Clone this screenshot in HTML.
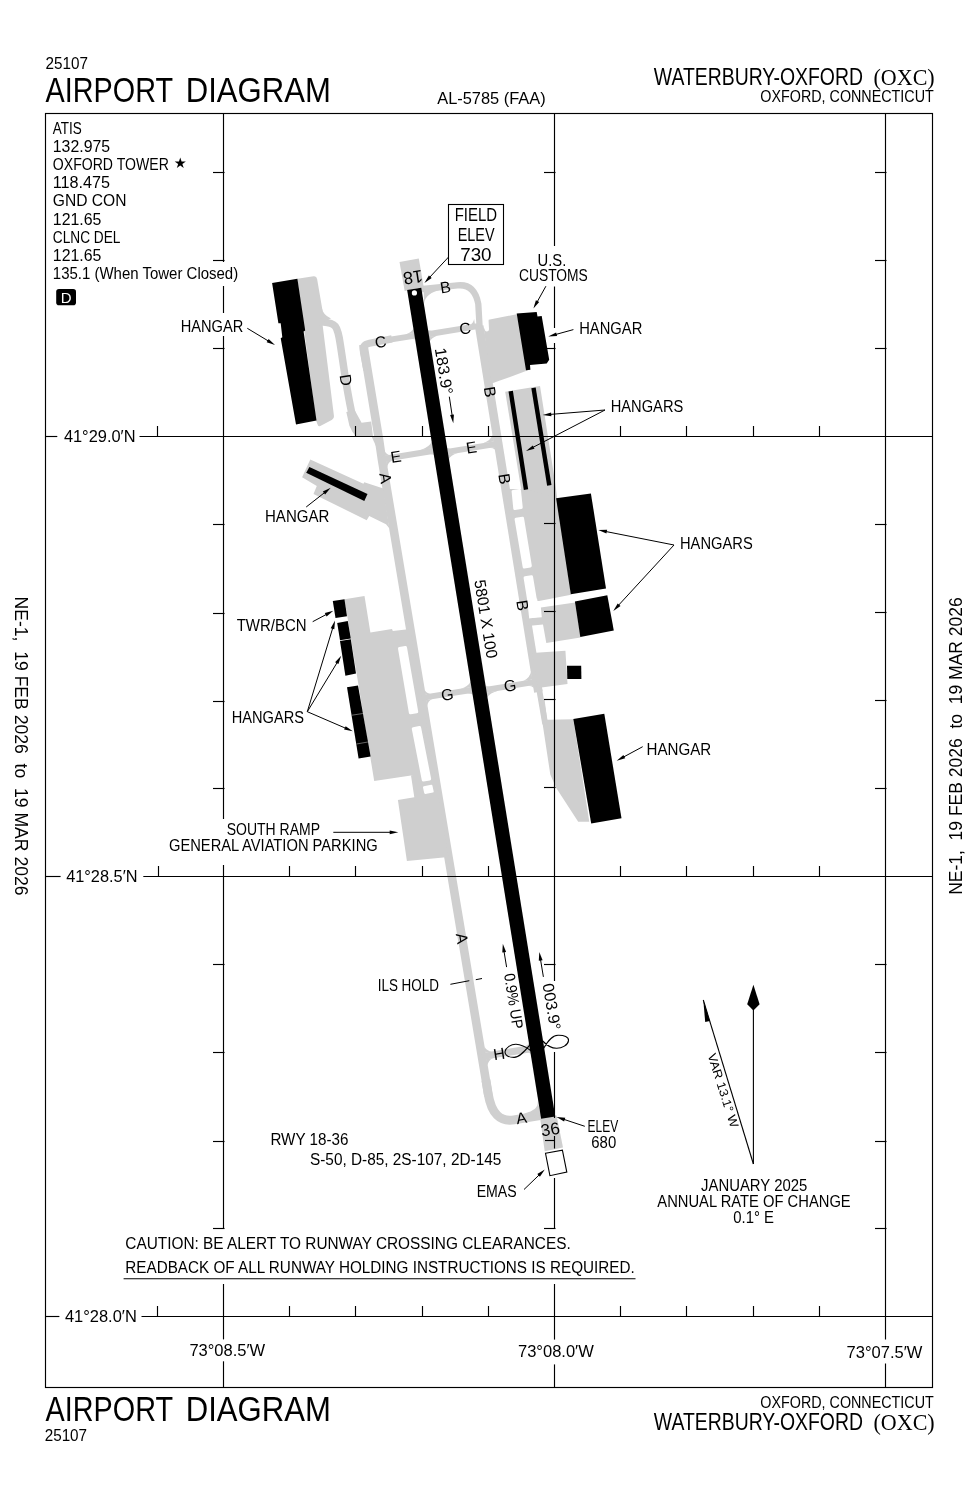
<!DOCTYPE html>
<html lang="en"><head><meta charset="utf-8"><title>Airport Diagram - Waterbury-Oxford (OXC)</title>
<style>
html,body{margin:0;padding:0;background:#fff}
body{width:978px;height:1500px;overflow:hidden}
svg{display:block;will-change:transform}
text{font-family:"Liberation Sans",sans-serif;fill:#000}
</style></head><body>
<svg width="978" height="1500" viewBox="0 0 978 1500">
<rect x="0" y="0" width="978" height="1500" fill="#fff"/>
<polygon points="399.5,262.0 418.8,258.6 423.7,286.8 404.7,291.0" fill="#cfcfcf" />
<path d="M297.4,278.8 L313.6,276.3 Q316.6,275.9 317.1,278.9 L322.6,311.0 L322.8,326.5 L333.9,415.5 Q334.3,418.5 331.7,419.9 L320.3,426.0 Q318.5,426.9 317.8,425.0 L316.0,420.5Z" fill="#cfcfcf"/>
<path d="M320.0,321.6 L327.3,322.6 Q334.6,323.6 336.5,328.3 L336.5,328.4 Q338.4,333.0 339.2,337.9 L339.8,341.5 Q341.2,350.0 343.5,365.8 L343.5,365.8 Q345.8,381.5 347.9,393.2 L347.9,393.2 Q350.0,405.0 351.8,413.0 L353.5,421.0" fill="none" stroke="#cfcfcf" stroke-width="7.50" stroke-linejoin="round" stroke-linecap="butt"/>
<path d="M321.6,307 Q322.5,314.5 331,318.6 L322,322 Z" fill="#cfcfcf"/>
<polygon points="346.3,412.0 349.4,425.8 352.5,432.0 356.5,436.9 373.0,436.9 371.2,421.5 361.6,422.7 354.6,410.0" fill="#cfcfcf" />
<polygon points="371.6,436.5 378.2,451.0 380.6,452.0 378.0,436.5" fill="#cfcfcf" />
<path d="M363.3,344.5 L379.1,440.0 L382.0,460.0 L488.5,1096.0" fill="none" stroke="#cfcfcf" stroke-width="8.60" stroke-linejoin="round" stroke-linecap="butt"/>
<path d="M366.9,370.0 L363.5,352.0 Q362.1,344.6 369.5,343.2 L391.9,338.9" fill="none" stroke="#cfcfcf" stroke-width="7.20" stroke-linejoin="round" stroke-linecap="butt"/>
<polyline points="421.6,334.6 382.1,340.9" fill="none" stroke="#cfcfcf" stroke-width="6.00" stroke-linejoin="round" stroke-linecap="butt"/>
<path d="M413.7,328.0 Q412.1,332.1 405.6,334.4 L414.5,333.0 Z" fill="#cfcfcf"/>
<path d="M415.6,339.8 Q414.4,338.8 411.4,338.9 L415.4,338.3 Z" fill="#cfcfcf"/>
<polyline points="421.7,335.2 479.2,325.9" fill="none" stroke="#cfcfcf" stroke-width="6.00" stroke-linejoin="round" stroke-linecap="butt"/>
<path d="M427.7,330.0 Q428.9,330.9 431.9,330.8 L427.9,331.5 Z" fill="#cfcfcf"/>
<path d="M429.6,341.7 Q431.2,337.7 437.7,335.4 L428.8,336.8 Z" fill="#cfcfcf"/>
<path d="M474.1,318.9 Q473.5,322.8 470.0,324.7 L474.9,323.9 Z" fill="#cfcfcf"/>
<polyline points="440.2,449.8 381.8,459.3" fill="none" stroke="#cfcfcf" stroke-width="6.00" stroke-linejoin="round" stroke-linecap="butt"/>
<path d="M432.0,441.3 Q429.7,447.0 420.3,450.3 L433.1,448.2 Z" fill="#cfcfcf"/>
<path d="M434.2,455.1 Q432.8,454.1 429.1,454.4 L434.0,453.6 Z" fill="#cfcfcf"/>
<path d="M384.5,451.0 Q386.3,454.5 390.2,455.2 L385.3,456.0 Z" fill="#cfcfcf"/>
<path d="M387.1,467.2 Q387.8,462.6 392.0,460.4 L386.1,461.3 Z" fill="#cfcfcf"/>
<polyline points="440.7,452.9 498.2,443.6" fill="none" stroke="#cfcfcf" stroke-width="6.00" stroke-linejoin="round" stroke-linecap="butt"/>
<path d="M446.7,447.7 Q447.9,448.6 450.9,448.5 L447.0,449.1 Z" fill="#cfcfcf"/>
<path d="M448.6,459.4 Q450.5,455.3 457.7,452.9 L447.8,454.5 Z" fill="#cfcfcf"/>
<path d="M492.8,434.6 Q491.0,440.3 483.1,443.3 L493.9,441.6 Z" fill="#cfcfcf"/>
<path d="M495.3,449.8 Q493.4,447.9 488.9,447.8 L494.8,446.9 Z" fill="#cfcfcf"/>
<polyline points="478.9,688.7 421.9,697.9" fill="none" stroke="#cfcfcf" stroke-width="6.00" stroke-linejoin="round" stroke-linecap="butt"/>
<path d="M470.8,681.2 Q468.7,686.1 460.4,689.0 L471.8,687.1 Z" fill="#cfcfcf"/>
<path d="M472.9,694.4 Q470.7,693.3 464.7,693.7 L472.6,692.4 Z" fill="#cfcfcf"/>
<path d="M424.5,689.7 Q426.3,693.2 430.2,693.8 L425.3,694.6 Z" fill="#cfcfcf"/>
<path d="M427.1,705.9 Q427.9,701.2 432.1,699.0 L426.1,700.0 Z" fill="#cfcfcf"/>
<polyline points="479.2,690.9 536.7,681.6" fill="none" stroke="#cfcfcf" stroke-width="6.00" stroke-linejoin="round" stroke-linecap="butt"/>
<path d="M485.2,685.6 Q486.6,686.5 490.4,686.3 L485.4,687.1 Z" fill="#cfcfcf"/>
<path d="M487.1,697.4 Q489.6,693.2 498.6,690.5 L486.3,692.5 Z" fill="#cfcfcf"/>
<path d="M531.1,671.6 Q529.9,677.9 523.5,681.0 L532.4,679.5 Z" fill="#cfcfcf"/>
<path d="M533.8,687.8 Q531.9,685.8 527.4,685.8 L533.3,684.9 Z" fill="#cfcfcf"/>
<polyline points="536.9,1047.7 482.0,1056.6" fill="none" stroke="#cfcfcf" stroke-width="7.00" stroke-linejoin="round" stroke-linecap="butt"/>
<path d="M529.2,1042.6 Q528.4,1045.0 524.8,1046.4 L529.7,1045.6 Z" fill="#cfcfcf"/>
<path d="M531.1,1053.9 Q529.8,1052.6 526.8,1052.5 L530.7,1051.9 Z" fill="#cfcfcf"/>
<path d="M484.3,1046.4 Q486.8,1050.9 492.2,1051.7 L485.3,1052.8 Z" fill="#cfcfcf"/>
<path d="M487.4,1065.5 Q488.3,1060.4 493.2,1058.0 L486.3,1059.1 Z" fill="#cfcfcf"/>
<path d="M418.3,289.5 L457.4,285.4 Q474.5,283.5 478.3,304 L480.0,334.0" fill="none" stroke="#cfcfcf" stroke-width="6.3"/>
<path d="M479.2,326.0 L538.4,692.0" fill="none" stroke="#cfcfcf" stroke-width="8.60" stroke-linejoin="round" stroke-linecap="butt"/>
<path d="M538.6,686.0 L545.2,724.0" fill="none" stroke="#cfcfcf" stroke-width="5.80" stroke-linejoin="round" stroke-linecap="butt"/>
<path d="M424.2,303.5 Q425.5,293 441.6,289.6 L441.6,286 L423.4,286 Z" fill="#cfcfcf"/>
<path d="M488.5,319.8 L516.7,314.2 L530.0,369.6 L499.3,380.8 Q496.5,381.8 493.8,382.7 L491.0,383.5 L484.0,330.0Z" fill="#cfcfcf"/>
<line x1="486.3" y1="317.0" x2="486.9" y2="329.3" stroke="#fff" stroke-width="4.2" stroke-linecap="round"/>
<polygon points="505.2,391.7 540.0,385.9 555.5,485.0 557.0,497.0 522.5,497.5" fill="#cfcfcf" />
<polygon points="310.3,459.6 363.4,483.8 364.3,482.2 383.4,488.6 389.3,528.3 386.0,524.3 369.2,516.1 366.7,520.2 313.5,494.0 316.8,486.1 302.1,477.3" fill="#cfcfcf" />
<polygon points="344.5,599.3 364.5,595.9 370.4,632.4 392.0,629.1 392.8,631.0 410.3,629.0 435.8,781.0 411.0,775.6 374.2,781.0" fill="#cfcfcf" />
<polygon points="411.0,775.6 434.7,775.0 448.5,857.0 406.9,861.0 397.9,800.1 414.3,797.3" fill="#cfcfcf" />
<path d="M398.0,648.7 Q397.7,647.1 399.3,646.9 L405.1,646.0 Q406.7,645.8 407.0,647.4 L418.2,711.4 Q418.5,713.0 416.9,713.3 L410.8,714.3 Q409.2,714.6 408.9,713.0Z" fill="#fff"/>
<path d="M411.8,729.1 Q411.5,727.5 413.1,727.2 L419.2,726.1 Q420.8,725.8 421.1,727.4 L431.1,778.6 Q431.4,780.2 429.8,780.5 L423.7,781.5 Q422.1,781.8 421.8,780.2Z" fill="#fff"/>
<path d="M423.0,787.4 Q422.8,786.4 423.8,786.2 L431.2,784.8 Q432.2,784.6 432.4,785.6 L433.7,791.4 Q433.9,792.4 432.9,792.6 L425.4,793.9 Q424.4,794.1 424.2,793.1Z" fill="#fff"/>
<polygon points="505.6,489.0 523.3,489.0 557.0,497.0 571.0,594.8 539.0,601.0 523.7,601.0" fill="#cfcfcf" />
<polygon points="540.9,607.4 575.0,602.5 580.5,637.6 546.3,643.0 543.0,624.5 527.7,626.0 526.5,618.5 541.8,617.2" fill="#cfcfcf" />
<path d="M511.6,491.6 Q511.4,490.1 512.9,489.9 L519.3,489.1 Q520.8,488.9 521.0,490.4 L522.7,507.1 Q522.9,508.6 521.4,508.9 L515.0,510.0 Q513.5,510.3 513.3,508.8Z" fill="#fff"/>
<path d="M514.6,519.5 Q514.4,518.0 515.9,517.7 L522.3,516.7 Q523.8,516.4 524.0,517.9 L531.8,565.6 Q532.0,567.1 530.5,567.4 L524.4,568.5 Q522.9,568.8 522.7,567.3Z" fill="#fff"/>
<path d="M523.6,578.1 Q523.4,576.6 524.9,576.3 L531.2,575.3 Q532.7,575.0 533.0,576.5 L536.9,599.8 Q537.2,601.3 535.7,601.5 L529.1,602.7 Q527.6,602.9 527.4,601.4Z" fill="#fff"/>
<polygon points="527.2,600.0 537.0,598.5 540.4,616.5 529.2,618.6" fill="#fff" />
<polygon points="532.1,653.0 565.4,650.7 567.5,683.9 537.7,688.0" fill="#cfcfcf" />
<polygon points="539.0,700.0 550.3,774.6 556.1,787.7 578.2,821.7 589.3,821.7 573.3,719.3 547.2,719.8 544.6,700.0" fill="#cfcfcf" />
<path d="M485.9,1080.0 L488.2,1094.0 Q493.1,1123.4 514.0,1119.8 L543.0,1115.0" fill="none" stroke="#cfcfcf" stroke-width="8.9"/>
<path d="M537.7,1101 Q539,1110 524,1113.5 L541,1116 Z" fill="#cfcfcf"/>
<polygon points="540.1,1118.0 556.6,1115.5 563.0,1147.6 544.7,1151.2" fill="#cfcfcf" />
<line x1="414.2" y1="288.8" x2="548.2" y2="1117.6" stroke="#000" stroke-width="14.3"/>
<circle cx="414.4" cy="292.9" r="2.6" fill="#fff"/>
<polygon points="272.1,283.1 297.4,278.8 305.2,330.5 303.6,331.6 316.5,420.5 296.0,424.6 280.7,338.3 282.3,337.3 280.7,323.2 278.4,323.2" fill="#000" />
<polygon points="516.7,313.6 536.7,312.0 537.5,316.5 541.7,316.0 549.2,359.8 546.7,363.5 530.0,365.0 530.4,369.7 526.0,370.2" fill="#000" />
<line x1="510.7" y1="391.2" x2="526.0" y2="489.6" stroke="#000" stroke-width="4.40"/>
<line x1="533.5" y1="387.8" x2="549.3" y2="485.4" stroke="#000" stroke-width="4.40"/>
<polygon points="309.4,467.0 306.2,472.7 364.3,500.9 367.5,494.0" fill="#000" />
<polygon points="332.8,600.9 344.5,599.3 347.0,616.3 335.5,618.0" fill="#000" />
<polygon points="337.2,622.9 347.8,620.9 350.8,638.6 340.0,640.2" fill="#000" />
<polygon points="340.0,640.9 350.8,639.2 356.0,673.6 345.4,675.7" fill="#000" />
<polygon points="347.0,687.2 358.0,685.5 370.6,756.4 358.6,758.6" fill="#000" />
<line x1="351.9" y1="715.2" x2="362.9" y2="713.5" stroke="#ccc" stroke-width="0.50"/>
<line x1="356.5" y1="744.0" x2="367.9" y2="742.0" stroke="#ccc" stroke-width="0.50"/>
<polygon points="556.1,498.3 590.9,493.4 606.0,588.5 570.8,594.3" fill="#000" />
<polygon points="574.9,601.5 607.3,595.3 613.8,630.6 580.3,637.0" fill="#000" />
<polygon points="567.0,665.8 581.2,665.8 581.4,679.0 567.3,679.0" fill="#000" />
<polygon points="573.3,719.0 604.3,713.8 621.5,818.3 591.2,823.4" fill="#000" />
<polygon points="545.5,1153.3 562.4,1150.1 566.8,1172.1 549.9,1175.7" fill="#fff" stroke="#000" stroke-width="1.1"/>
<rect x="45.5" y="113.5" width="887.0" height="1274.0" fill="none" stroke="#000" stroke-width="1.15"/>
<line x1="223.5" y1="113.5" x2="223.5" y2="262.0" stroke="#000" stroke-width="1.15"/>
<line x1="223.5" y1="286.0" x2="223.5" y2="313.0" stroke="#000" stroke-width="1.15"/>
<line x1="223.5" y1="336.0" x2="223.5" y2="819.0" stroke="#000" stroke-width="1.15"/>
<line x1="223.5" y1="865.0" x2="223.5" y2="1229.0" stroke="#000" stroke-width="1.15"/>
<line x1="223.5" y1="1284.0" x2="223.5" y2="1339.4" stroke="#000" stroke-width="1.15"/>
<line x1="223.5" y1="1361.3" x2="223.5" y2="1387.5" stroke="#000" stroke-width="1.15"/>
<line x1="554.5" y1="113.5" x2="554.5" y2="246.0" stroke="#000" stroke-width="1.15"/>
<line x1="554.5" y1="286.5" x2="554.5" y2="328.0" stroke="#000" stroke-width="1.15"/>
<line x1="554.5" y1="343.0" x2="554.5" y2="981.0" stroke="#000" stroke-width="1.15"/>
<line x1="554.5" y1="1052.0" x2="554.5" y2="1118.0" stroke="#000" stroke-width="1.15"/>
<line x1="554.5" y1="1178.0" x2="554.5" y2="1229.0" stroke="#000" stroke-width="1.15"/>
<line x1="554.5" y1="1284.0" x2="554.5" y2="1339.6" stroke="#000" stroke-width="1.15"/>
<line x1="554.5" y1="1364.4" x2="554.5" y2="1387.5" stroke="#000" stroke-width="1.15"/>
<line x1="885.5" y1="113.5" x2="885.5" y2="1339.5" stroke="#000" stroke-width="1.15"/>
<line x1="885.5" y1="1363.5" x2="885.5" y2="1387.5" stroke="#000" stroke-width="1.15"/>
<line x1="45.5" y1="436.5" x2="57.3" y2="436.5" stroke="#000" stroke-width="1.15"/>
<line x1="139.5" y1="436.5" x2="932.5" y2="436.5" stroke="#000" stroke-width="1.15"/>
<line x1="45.5" y1="876.5" x2="60.6" y2="876.5" stroke="#000" stroke-width="1.15"/>
<line x1="143.3" y1="876.5" x2="932.5" y2="876.5" stroke="#000" stroke-width="1.15"/>
<line x1="45.5" y1="1316.5" x2="59.4" y2="1316.5" stroke="#000" stroke-width="1.15"/>
<line x1="141.5" y1="1316.5" x2="932.5" y2="1316.5" stroke="#000" stroke-width="1.15"/>
<line x1="157.5" y1="426.0" x2="157.5" y2="436.5" stroke="#000" stroke-width="1.15"/>
<line x1="355.5" y1="426.0" x2="355.5" y2="436.5" stroke="#000" stroke-width="1.15"/>
<line x1="422.5" y1="426.0" x2="422.5" y2="436.5" stroke="#000" stroke-width="1.15"/>
<line x1="488.5" y1="426.0" x2="488.5" y2="436.5" stroke="#000" stroke-width="1.15"/>
<line x1="620.5" y1="426.0" x2="620.5" y2="436.5" stroke="#000" stroke-width="1.15"/>
<line x1="686.5" y1="426.0" x2="686.5" y2="436.5" stroke="#000" stroke-width="1.15"/>
<line x1="753.5" y1="426.0" x2="753.5" y2="436.5" stroke="#000" stroke-width="1.15"/>
<line x1="819.5" y1="426.0" x2="819.5" y2="436.5" stroke="#000" stroke-width="1.15"/>
<line x1="158.5" y1="866.0" x2="158.5" y2="876.5" stroke="#000" stroke-width="1.15"/>
<line x1="289.5" y1="866.0" x2="289.5" y2="876.5" stroke="#000" stroke-width="1.15"/>
<line x1="355.5" y1="866.0" x2="355.5" y2="876.5" stroke="#000" stroke-width="1.15"/>
<line x1="422.5" y1="866.0" x2="422.5" y2="876.5" stroke="#000" stroke-width="1.15"/>
<line x1="488.5" y1="866.0" x2="488.5" y2="876.5" stroke="#000" stroke-width="1.15"/>
<line x1="620.5" y1="866.0" x2="620.5" y2="876.5" stroke="#000" stroke-width="1.15"/>
<line x1="686.5" y1="866.0" x2="686.5" y2="876.5" stroke="#000" stroke-width="1.15"/>
<line x1="753.5" y1="866.0" x2="753.5" y2="876.5" stroke="#000" stroke-width="1.15"/>
<line x1="819.5" y1="866.0" x2="819.5" y2="876.5" stroke="#000" stroke-width="1.15"/>
<line x1="157.5" y1="1306.0" x2="157.5" y2="1316.5" stroke="#000" stroke-width="1.15"/>
<line x1="289.5" y1="1306.0" x2="289.5" y2="1316.5" stroke="#000" stroke-width="1.15"/>
<line x1="355.5" y1="1306.0" x2="355.5" y2="1316.5" stroke="#000" stroke-width="1.15"/>
<line x1="422.5" y1="1306.0" x2="422.5" y2="1316.5" stroke="#000" stroke-width="1.15"/>
<line x1="488.5" y1="1306.0" x2="488.5" y2="1316.5" stroke="#000" stroke-width="1.15"/>
<line x1="620.5" y1="1306.0" x2="620.5" y2="1316.5" stroke="#000" stroke-width="1.15"/>
<line x1="686.5" y1="1306.0" x2="686.5" y2="1316.5" stroke="#000" stroke-width="1.15"/>
<line x1="753.5" y1="1306.0" x2="753.5" y2="1316.5" stroke="#000" stroke-width="1.15"/>
<line x1="819.5" y1="1306.0" x2="819.5" y2="1316.5" stroke="#000" stroke-width="1.15"/>
<line x1="213.0" y1="172.5" x2="224.5" y2="172.5" stroke="#000" stroke-width="1.15"/>
<line x1="213.0" y1="260.5" x2="224.5" y2="260.5" stroke="#000" stroke-width="1.15"/>
<line x1="213.0" y1="348.5" x2="224.5" y2="348.5" stroke="#000" stroke-width="1.15"/>
<line x1="213.0" y1="524.5" x2="224.5" y2="524.5" stroke="#000" stroke-width="1.15"/>
<line x1="213.0" y1="613.5" x2="224.5" y2="613.5" stroke="#000" stroke-width="1.15"/>
<line x1="213.0" y1="701.5" x2="224.5" y2="701.5" stroke="#000" stroke-width="1.15"/>
<line x1="213.0" y1="788.5" x2="224.5" y2="788.5" stroke="#000" stroke-width="1.15"/>
<line x1="213.0" y1="964.5" x2="224.5" y2="964.5" stroke="#000" stroke-width="1.15"/>
<line x1="213.0" y1="1052.5" x2="224.5" y2="1052.5" stroke="#000" stroke-width="1.15"/>
<line x1="213.0" y1="1141.5" x2="224.5" y2="1141.5" stroke="#000" stroke-width="1.15"/>
<line x1="213.0" y1="1228.5" x2="224.5" y2="1228.5" stroke="#000" stroke-width="1.15"/>
<line x1="544.0" y1="172.5" x2="555.5" y2="172.5" stroke="#000" stroke-width="1.15"/>
<line x1="544.0" y1="348.5" x2="555.5" y2="348.5" stroke="#000" stroke-width="1.15"/>
<line x1="544.0" y1="523.5" x2="555.5" y2="523.5" stroke="#000" stroke-width="1.15"/>
<line x1="544.0" y1="611.5" x2="555.5" y2="611.5" stroke="#000" stroke-width="1.15"/>
<line x1="544.0" y1="699.5" x2="555.5" y2="699.5" stroke="#000" stroke-width="1.15"/>
<line x1="544.0" y1="787.5" x2="555.5" y2="787.5" stroke="#000" stroke-width="1.15"/>
<line x1="544.0" y1="964.5" x2="555.5" y2="964.5" stroke="#000" stroke-width="1.15"/>
<line x1="544.0" y1="1228.5" x2="555.5" y2="1228.5" stroke="#000" stroke-width="1.15"/>
<line x1="875.0" y1="172.5" x2="886.5" y2="172.5" stroke="#000" stroke-width="1.15"/>
<line x1="875.0" y1="260.5" x2="886.5" y2="260.5" stroke="#000" stroke-width="1.15"/>
<line x1="875.0" y1="348.5" x2="886.5" y2="348.5" stroke="#000" stroke-width="1.15"/>
<line x1="875.0" y1="524.5" x2="886.5" y2="524.5" stroke="#000" stroke-width="1.15"/>
<line x1="875.0" y1="612.5" x2="886.5" y2="612.5" stroke="#000" stroke-width="1.15"/>
<line x1="875.0" y1="700.5" x2="886.5" y2="700.5" stroke="#000" stroke-width="1.15"/>
<line x1="875.0" y1="788.5" x2="886.5" y2="788.5" stroke="#000" stroke-width="1.15"/>
<line x1="875.0" y1="964.5" x2="886.5" y2="964.5" stroke="#000" stroke-width="1.15"/>
<line x1="875.0" y1="1052.5" x2="886.5" y2="1052.5" stroke="#000" stroke-width="1.15"/>
<line x1="875.0" y1="1141.5" x2="886.5" y2="1141.5" stroke="#000" stroke-width="1.15"/>
<line x1="875.0" y1="1228.5" x2="886.5" y2="1228.5" stroke="#000" stroke-width="1.15"/>
<line x1="448.6" y1="257.0" x2="429.6" y2="277.4" stroke="#000" stroke-width="1.00"/>
<polygon points="424.4,283.0 428.9,275.4 431.7,278.0" fill="#000" />
<line x1="545.9" y1="286.2" x2="537.1" y2="302.0" stroke="#000" stroke-width="1.00"/>
<polygon points="533.4,308.6 535.9,300.2 539.2,302.0" fill="#000" />
<line x1="573.4" y1="329.6" x2="555.6" y2="334.5" stroke="#000" stroke-width="1.00"/>
<polygon points="548.3,336.5 556.1,332.4 557.1,336.1" fill="#000" />
<line x1="605.0" y1="410.0" x2="550.3" y2="414.4" stroke="#000" stroke-width="1.00"/>
<polygon points="542.7,415.0 551.1,412.4 551.4,416.2" fill="#000" />
<line x1="605.0" y1="410.0" x2="532.7" y2="447.5" stroke="#000" stroke-width="1.00"/>
<polygon points="526.0,451.0 532.8,445.4 534.5,448.7" fill="#000" />
<line x1="247.3" y1="328.3" x2="268.5" y2="341.1" stroke="#000" stroke-width="1.00"/>
<polygon points="275.0,345.0 266.7,342.2 268.6,338.9" fill="#000" />
<line x1="306.2" y1="507.0" x2="324.7" y2="492.5" stroke="#000" stroke-width="1.00"/>
<polygon points="330.7,487.8 325.1,494.6 322.8,491.6" fill="#000" />
<line x1="674.0" y1="545.0" x2="605.8" y2="531.5" stroke="#000" stroke-width="1.00"/>
<polygon points="598.3,530.0 607.1,529.8 606.4,533.5" fill="#000" />
<line x1="674.0" y1="545.0" x2="618.4" y2="605.4" stroke="#000" stroke-width="1.00"/>
<polygon points="613.3,611.0 617.7,603.4 620.5,606.0" fill="#000" />
<line x1="312.7" y1="621.7" x2="326.6" y2="614.3" stroke="#000" stroke-width="1.00"/>
<polygon points="333.3,610.7 326.6,616.4 324.8,613.1" fill="#000" />
<line x1="307.3" y1="711.7" x2="332.8" y2="627.8" stroke="#000" stroke-width="1.00"/>
<polygon points="335.0,620.5 334.3,629.3 330.7,628.2" fill="#000" />
<line x1="307.3" y1="711.7" x2="337.3" y2="662.3" stroke="#000" stroke-width="1.00"/>
<polygon points="341.2,655.8 338.4,664.1 335.1,662.2" fill="#000" />
<line x1="307.3" y1="711.7" x2="345.8" y2="728.3" stroke="#000" stroke-width="1.00"/>
<polygon points="352.8,731.3 344.1,729.6 345.7,726.2" fill="#000" />
<line x1="642.7" y1="746.7" x2="623.4" y2="757.1" stroke="#000" stroke-width="1.00"/>
<polygon points="616.7,760.7 623.4,754.9 625.2,758.3" fill="#000" />
<line x1="333.3" y1="832.3" x2="390.7" y2="832.3" stroke="#000" stroke-width="1.00"/>
<polygon points="398.3,832.3 389.7,834.2 389.7,830.4" fill="#000" />
<line x1="584.8" y1="1126.3" x2="563.7" y2="1119.3" stroke="#000" stroke-width="1.00"/>
<polygon points="556.5,1116.9 565.3,1117.8 564.1,1121.4" fill="#000" />
<line x1="524.0" y1="1189.5" x2="539.3" y2="1174.8" stroke="#000" stroke-width="1.00"/>
<polygon points="544.8,1169.5 539.9,1176.8 537.3,1174.1" fill="#000" />
<line x1="449.3" y1="396.7" x2="452.2" y2="415.8" stroke="#000" stroke-width="1.00"/>
<polygon points="453.3,423.3 450.1,415.1 453.9,414.5" fill="#000" />
<line x1="506.6" y1="967.1" x2="504.0" y2="951.3" stroke="#000" stroke-width="1.00"/>
<polygon points="502.8,943.8 506.1,952.0 502.3,952.6" fill="#000" />
<line x1="543.4" y1="976.9" x2="540.5" y2="959.5" stroke="#000" stroke-width="1.00"/>
<polygon points="539.3,952.0 542.6,960.2 538.8,960.8" fill="#000" />
<line x1="450.4" y1="984.3" x2="469.3" y2="980.7" stroke="#000" stroke-width="1.00"/>
<line x1="475.8" y1="979.7" x2="482.0" y2="978.5" stroke="#000" stroke-width="1.00"/>
<line x1="554.5" y1="1136.0" x2="554.5" y2="1148.5" stroke="#000" stroke-width="1.15"/>
<line x1="545.0" y1="1140.5" x2="554.5" y2="1140.5" stroke="#000" stroke-width="1.15"/>
<path d="M530.4,1044.3 C524,1052 519,1057.5 514,1057.4 C508,1057.3 504.5,1055 505.1,1051.5 C505.8,1047.5 511,1044.2 516,1044.3 C521,1044.4 526,1047 531,1050.7" fill="none" stroke="#000" stroke-width="1.1"/>
<path d="M543.7,1048.1 C548,1041 552,1035.5 558,1035.3 C564,1035.1 569,1037 568.5,1040.6 C568,1045 562,1048.4 556.5,1048.3 C551,1048.2 546,1044.5 542.7,1041" fill="none" stroke="#000" stroke-width="1.1"/>
<line x1="753.4" y1="1164.0" x2="753.4" y2="1008.0" stroke="#000" stroke-width="1.10"/>
<polygon points="753.4,984.8 759.6,1004.3 753.4,1010.5 747.2,1004.3" fill="#000" />
<line x1="753.4" y1="1164.0" x2="703.3" y2="1000.0" stroke="#000" stroke-width="1.10"/>
<polygon points="703.3,1000.0 705.2,1022.0 709.8,1021.0" fill="#000" />
<text x="45.5" y="68.7" font-size="16.3" textLength="42.4" lengthAdjust="spacingAndGlyphs" >25107</text>
<text y="101.8" font-size="35.6"><tspan x="45.5" textLength="127.0" lengthAdjust="spacingAndGlyphs">AIRPORT</tspan> <tspan x="185.7" textLength="145.1" lengthAdjust="spacingAndGlyphs">DIAGRAM</tspan></text>
<text x="437.2" y="104.2" font-size="16.6" textLength="108.5" lengthAdjust="spacingAndGlyphs" >AL-5785 (FAA)</text>
<text x="44.7" y="1440.8" font-size="16.3" textLength="42.4" lengthAdjust="spacingAndGlyphs" >25107</text>
<text y="1421.0" font-size="35.6"><tspan x="45.5" textLength="127.0" lengthAdjust="spacingAndGlyphs">AIRPORT</tspan> <tspan x="185.7" textLength="145.1" lengthAdjust="spacingAndGlyphs">DIAGRAM</tspan></text>
<text x="653.8" y="84.7" font-size="23.0" textLength="209.2" lengthAdjust="spacingAndGlyphs" >WATERBURY-OXFORD</text>
<text x="873.5" y="84.7" font-size="23.5" textLength="61.2" lengthAdjust="spacingAndGlyphs" style="font-family:'Liberation Serif',serif" >(OXC)</text>
<text x="760.3" y="102.0" font-size="16.0" textLength="173.5" lengthAdjust="spacingAndGlyphs" >OXFORD, CONNECTICUT</text>
<text x="63.9" y="441.9" font-size="16.0" textLength="71.6" lengthAdjust="spacingAndGlyphs" >41°29.0′N</text>
<text x="66.2" y="881.9" font-size="16.0" textLength="71.3" lengthAdjust="spacingAndGlyphs" >41°28.5′N</text>
<text x="64.9" y="1321.9" font-size="16.0" textLength="71.9" lengthAdjust="spacingAndGlyphs" >41°28.0′N</text>
<text x="189.4" y="1355.7" font-size="16.0" textLength="75.8" lengthAdjust="spacingAndGlyphs" >73°08.5′W</text>
<text x="518.0" y="1357.1" font-size="16.0" textLength="75.8" lengthAdjust="spacingAndGlyphs" >73°08.0′W</text>
<text x="846.6" y="1357.7" font-size="16.0" textLength="75.8" lengthAdjust="spacingAndGlyphs" >73°07.5′W</text>
<text x="52.8" y="133.5" font-size="15.6" textLength="29.0" lengthAdjust="spacingAndGlyphs" >ATIS</text>
<text x="52.8" y="151.7" font-size="15.6" textLength="57.3" lengthAdjust="spacingAndGlyphs" >132.975</text>
<text x="52.8" y="169.9" font-size="15.6" textLength="116.0" lengthAdjust="spacingAndGlyphs" >OXFORD TOWER</text>
<text x="52.8" y="188.1" font-size="15.6" textLength="57.3" lengthAdjust="spacingAndGlyphs" >118.475</text>
<text x="52.8" y="206.3" font-size="15.6" textLength="73.7" lengthAdjust="spacingAndGlyphs" >GND CON</text>
<text x="52.8" y="224.5" font-size="15.6" textLength="48.6" lengthAdjust="spacingAndGlyphs" >121.65</text>
<text x="52.8" y="242.7" font-size="15.6" textLength="67.6" lengthAdjust="spacingAndGlyphs" >CLNC DEL</text>
<text x="52.8" y="260.9" font-size="15.6" textLength="48.6" lengthAdjust="spacingAndGlyphs" >121.65</text>
<text x="52.8" y="279.1" font-size="15.6" textLength="185.4" lengthAdjust="spacingAndGlyphs" >135.1 (When Tower Closed)</text>
<text x="173.8" y="168.0" font-size="14.5" style="font-family:'DejaVu Sans',sans-serif" >★</text>
<rect x="56.2" y="289.0" width="19.8" height="16.2" rx="2.8" fill="#000"/>
<text x="66.2" y="302.6" font-size="15" text-anchor="middle" style="fill:#fff">D</text>
<rect x="448.5" y="204.5" width="55.0" height="60.0" fill="#fff" stroke="#000" stroke-width="1.1"/>
<text x="454.7" y="220.6" font-size="18.0" textLength="42.3" lengthAdjust="spacingAndGlyphs" >FIELD</text>
<text x="457.7" y="240.7" font-size="18.0" textLength="36.9" lengthAdjust="spacingAndGlyphs" >ELEV</text>
<text x="460.2" y="260.5" font-size="18.0" textLength="31.4" lengthAdjust="spacingAndGlyphs" >730</text>
<text x="537.5" y="265.5" font-size="15.6" textLength="28.8" lengthAdjust="spacingAndGlyphs" >U.S.</text>
<text x="519.0" y="280.9" font-size="15.6" textLength="68.8" lengthAdjust="spacingAndGlyphs" >CUSTOMS</text>
<text x="579.2" y="333.5" font-size="15.6" textLength="63.1" lengthAdjust="spacingAndGlyphs" >HANGAR</text>
<text x="610.7" y="411.7" font-size="15.6" textLength="72.6" lengthAdjust="spacingAndGlyphs" >HANGARS</text>
<text x="180.7" y="331.7" font-size="15.6" textLength="62.6" lengthAdjust="spacingAndGlyphs" >HANGAR</text>
<text x="265.0" y="521.5" font-size="15.6" textLength="64.3" lengthAdjust="spacingAndGlyphs" >HANGAR</text>
<text x="680.0" y="549.3" font-size="15.6" textLength="72.7" lengthAdjust="spacingAndGlyphs" >HANGARS</text>
<text x="236.7" y="630.7" font-size="15.6" textLength="70.0" lengthAdjust="spacingAndGlyphs" >TWR/BCN</text>
<text x="231.7" y="722.7" font-size="15.6" textLength="72.3" lengthAdjust="spacingAndGlyphs" >HANGARS</text>
<text x="646.6" y="754.5" font-size="15.6" textLength="64.7" lengthAdjust="spacingAndGlyphs" >HANGAR</text>
<text x="226.7" y="835.0" font-size="15.6" textLength="93.3" lengthAdjust="spacingAndGlyphs" >SOUTH RAMP</text>
<text x="169.0" y="851.0" font-size="15.6" textLength="208.7" lengthAdjust="spacingAndGlyphs" >GENERAL AVIATION PARKING</text>
<text x="377.7" y="991.0" font-size="15.6" textLength="61.3" lengthAdjust="spacingAndGlyphs" >ILS HOLD</text>
<text x="270.4" y="1144.7" font-size="15.6" textLength="78.0" lengthAdjust="spacingAndGlyphs" >RWY 18-36</text>
<text x="310.0" y="1165.3" font-size="15.6" textLength="191.3" lengthAdjust="spacingAndGlyphs" >S-50, D-85, 2S-107, 2D-145</text>
<text x="476.7" y="1196.7" font-size="15.6" textLength="40.0" lengthAdjust="spacingAndGlyphs" >EMAS</text>
<text x="587.6" y="1132.0" font-size="15.6" textLength="30.7" lengthAdjust="spacingAndGlyphs" >ELEV</text>
<text x="591.3" y="1148.0" font-size="15.6" textLength="24.9" lengthAdjust="spacingAndGlyphs" >680</text>
<text x="125.3" y="1249.3" font-size="16.0" textLength="445.4" lengthAdjust="spacingAndGlyphs" >CAUTION: BE ALERT TO RUNWAY CROSSING CLEARANCES.</text>
<text x="125.3" y="1273.3" font-size="16.0" textLength="509.4" lengthAdjust="spacingAndGlyphs" >READBACK OF ALL RUNWAY HOLDING INSTRUCTIONS IS REQUIRED.</text>
<line x1="123.6" y1="1278.7" x2="635.5" y2="1278.7" stroke="#000" stroke-width="1.10"/>
<text x="701.0" y="1191.0" font-size="15.6" textLength="106.3" lengthAdjust="spacingAndGlyphs" >JANUARY 2025</text>
<text x="657.3" y="1206.7" font-size="15.6" textLength="193.4" lengthAdjust="spacingAndGlyphs" >ANNUAL RATE OF CHANGE</text>
<text x="733.3" y="1222.7" font-size="15.6" textLength="40.7" lengthAdjust="spacingAndGlyphs" >0.1° E</text>
<text x="445.5" y="292.7" font-size="16.0" text-anchor="middle" transform="rotate(-9.0 445.5 287.2)">B</text>
<text x="380.5" y="347.5" font-size="16.0" text-anchor="middle" transform="rotate(-9.0 380.5 342.0)">C</text>
<text x="465.0" y="334.0" font-size="16.0" text-anchor="middle" transform="rotate(-9.0 465.0 328.5)">C</text>
<text x="345.8" y="385.5" font-size="16.0" text-anchor="middle" transform="rotate(81.0 345.8 380.0)">D</text>
<text x="395.8" y="462.3" font-size="16.0" text-anchor="middle" transform="rotate(-9.0 395.8 456.8)">E</text>
<text x="471.5" y="453.1" font-size="16.0" text-anchor="middle" transform="rotate(-9.0 471.5 447.6)">E</text>
<text x="385.5" y="483.7" font-size="16.0" text-anchor="middle" transform="rotate(81.0 385.5 478.2)">A</text>
<text x="490.0" y="397.5" font-size="16.0" text-anchor="middle" transform="rotate(81.0 490.0 392.0)">B</text>
<text x="504.5" y="484.5" font-size="16.0" text-anchor="middle" transform="rotate(81.0 504.5 479.0)">B</text>
<text x="522.5" y="611.0" font-size="16.0" text-anchor="middle" transform="rotate(81.0 522.5 605.5)">B</text>
<text x="447.3" y="700.0" font-size="16.0" text-anchor="middle" transform="rotate(-9.0 447.3 694.5)">G</text>
<text x="510.0" y="691.0" font-size="16.0" text-anchor="middle" transform="rotate(-9.0 510.0 685.5)">G</text>
<text x="461.9" y="943.9" font-size="16.0" text-anchor="middle" transform="rotate(81.0 461.9 938.4)">A</text>
<text x="499.0" y="1059.5" font-size="16.0" text-anchor="middle" transform="rotate(-9.0 499.0 1054.0)">H</text>
<text x="521.5" y="1123.5" font-size="16.0" text-anchor="middle" transform="rotate(-9.0 521.5 1118.0)">A</text>
<text x="413.0" y="283.5" font-size="17.6" text-anchor="middle" transform="rotate(171.0 413.0 277.4)">18</text>
<text x="550.3" y="1135.1" font-size="17.0" text-anchor="middle" transform="rotate(-9.0 550.3 1129.3)">36</text>
<text x="434.8" y="348.8" font-size="16.0" transform="rotate(80.8 434.8 348.8)" textLength="47.0" lengthAdjust="spacingAndGlyphs">183.9°</text>
<text x="474.2" y="580.8" font-size="16.0" transform="rotate(80.8 474.2 580.8)" textLength="79.3" lengthAdjust="spacingAndGlyphs">5801 X 100</text>
<text x="503.9" y="974.3" font-size="15.5" transform="rotate(80.8 503.9 974.3)" textLength="56.0" lengthAdjust="spacingAndGlyphs">0.9% UP</text>
<text x="542.6" y="984.3" font-size="16.0" transform="rotate(80.8 542.6 984.3)" textLength="47.0" lengthAdjust="spacingAndGlyphs">003.9°</text>
<text x="707.5" y="1055.0" font-size="12.2" transform="rotate(72.5 707.5 1055.0)" textLength="77.0" lengthAdjust="spacingAndGlyphs">VAR 13.1° W</text>
<text x="15.0" y="596.5" font-size="18" transform="rotate(90 15 596.5)" textLength="299" lengthAdjust="spacingAndGlyphs" xml:space="preserve">NE-1,  19 FEB 2026  to  19 MAR 2026</text>
<text x="961.8" y="894.8" font-size="18" transform="rotate(-90 961.8 894.8)" textLength="297.5" lengthAdjust="spacingAndGlyphs" xml:space="preserve">NE-1,  19 FEB 2026  to  19 MAR 2026</text>
<text x="653.8" y="1429.5" font-size="23.0" textLength="209.2" lengthAdjust="spacingAndGlyphs" >WATERBURY-OXFORD</text>
<text x="873.5" y="1429.5" font-size="23.5" textLength="61.2" lengthAdjust="spacingAndGlyphs" style="font-family:'Liberation Serif',serif" >(OXC)</text>
<text x="760.3" y="1407.8" font-size="16.0" textLength="173.5" lengthAdjust="spacingAndGlyphs" >OXFORD, CONNECTICUT</text>
</svg>
</body></html>
